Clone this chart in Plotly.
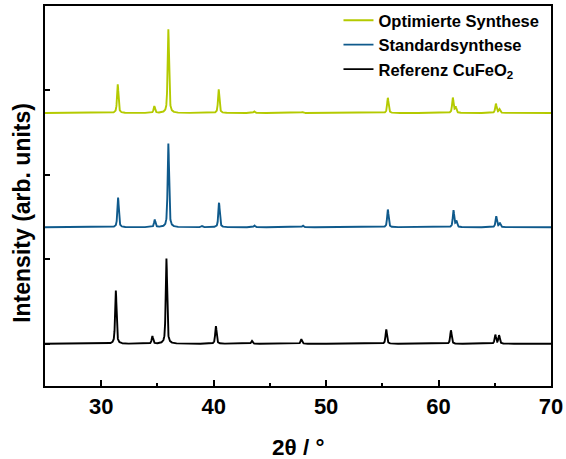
import numpy as np
import plotly.graph_objects as go

# ---- data (peak lists, 2theta in degrees, heights in arb. units) ----
x_range = [25, 70]

ref_pos = [31.30, 34.55, 35.80, 40.20, 43.40, 47.80, 55.35, 61.10, 65.05, 65.38]
ref_hgt = [0.63, 0.09, 1.01, 0.21, 0.035, 0.055, 0.17, 0.16, 0.105, 0.10]
ref_offset = 0.0

std_pos = [31.50, 34.76, 35.97, 38.97, 40.48, 43.62, 47.93, 55.49, 61.33, 61.58, 65.13, 65.45]
std_hgt = [0.35, 0.09, 0.99, 0.015, 0.29, 0.02, 0.02, 0.21, 0.20, 0.07, 0.13, 0.05]
std_offset = 1.38

opt_pos = [31.47, 34.72, 35.97, 40.45, 43.60, 47.90, 55.49, 61.27, 61.52, 65.10, 65.42]
opt_hgt = [0.34, 0.08, 0.99, 0.28, 0.02, 0.012, 0.18, 0.18, 0.07, 0.11, 0.045]
opt_offset = 2.733

names = ["Referenz CuFeO<sub>2</sub>", "Standardsynthese", "Optimierte Synthese"]
colors = ["#000000", "#0F5A8C", "#B4CA00"]

x_ticks = [30, 40, 50, 60, 70]
x_minor_ticks = [35, 45, 55, 65]
y_ticks = [0, 1, 2, 3]

# ---- build profiles (pseudo-Voigt peaks) ----
two_theta = np.arange(x_range[0], x_range[1] + 1e-9, 0.01)


def pattern(pos, hgt, offset, fwhm=0.15, eta=0.6):
    y = np.zeros_like(two_theta)
    g = 2 * np.sqrt(np.log(2)) / fwhm
    for p, h in zip(pos, hgt):
        d = two_theta - p
        lor = 1.0 / (1.0 + (2 * d / fwhm) ** 2)
        gau = np.exp(-(g * d) ** 2)
        y += h * (eta * lor + (1 - eta) * gau)
    return y + offset


series = [
    pattern(ref_pos, ref_hgt, ref_offset),
    pattern(std_pos, std_hgt, std_offset),
    pattern(opt_pos, opt_hgt, opt_offset),
]

fig = go.Figure()
for name, col, y in zip(names, colors, series):
    fig.add_trace(go.Scatter(x=two_theta, y=y, mode="lines", name=name,
                             line=dict(color=col, width=1.9)))

font_family = "Arial, Liberation Sans, sans-serif"

fig.update_layout(
    width=566, height=459,
    margin=dict(l=45, r=15, t=6, b=73, autoexpand=False),
    plot_bgcolor="white", paper_bgcolor="white",
    font=dict(family=font_family, color="black"),
    showlegend=True,
    legend=dict(x=0.58, y=1.008, xanchor="left", yanchor="top",
                traceorder="reversed", bgcolor="rgba(0,0,0,0)",
                font=dict(size=16.5, weight="bold", color="black"),
                itemwidth=30, tracegroupgap=0),
    annotations=[
        dict(text="Intensity (arb. units)", textangle=-90,
             xref="paper", yref="paper", x=-0.046, y=0.455,
             xanchor="center", yanchor="middle", showarrow=False,
             font=dict(size=23, weight="bold", color="black")),
        dict(text="2θ / °", xref="paper", yref="paper", x=0.5, y=-0.162,
             xanchor="center", yanchor="middle", showarrow=False,
             font=dict(size=22.5, weight="bold", color="black")),
    ],
)

fig.update_xaxes(
    range=x_range, tickvals=x_ticks, ticks="inside", ticklen=6, tickwidth=1.5,
    tickcolor="black", showline=True, linecolor="black", linewidth=1.8,
    mirror=True, showgrid=False, zeroline=False, automargin=False,
    tickfont=dict(size=22, weight="bold"),
    minor=dict(tickvals=x_minor_ticks, ticks="inside", ticklen=3,
               tickwidth=1.5, tickcolor="black", showgrid=False),
)
fig.update_yaxes(
    range=[-0.5, 4.0], tickvals=y_ticks, ticks="inside", ticklen=5, tickwidth=1.5,
    tickcolor="black", showticklabels=False, showline=True, linecolor="black",
    linewidth=1.8, mirror=True, showgrid=False, zeroline=False, automargin=False,
)

fig.write_html("out.html")
